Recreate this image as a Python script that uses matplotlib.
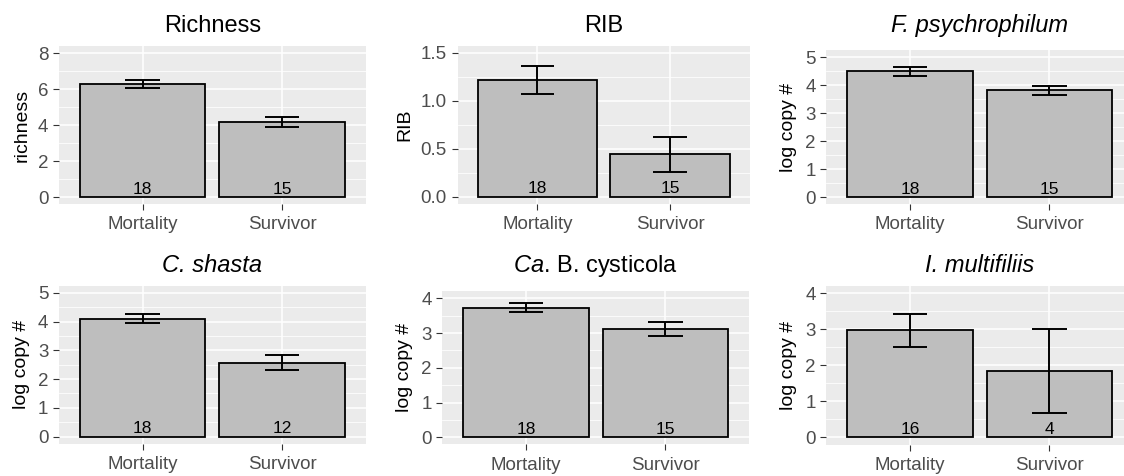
import matplotlib
matplotlib.use("Agg")
import matplotlib.pyplot as plt
from matplotlib.ticker import MultipleLocator, FormatStrFormatter

plt.rcParams['font.family'] = ['Liberation Sans', 'DejaVu Sans']
plt.rcParams['mathtext.fontset'] = 'custom'
plt.rcParams['mathtext.it'] = 'Liberation Sans:italic'
plt.rcParams['mathtext.rm'] = 'Liberation Sans'

groups = ['Mortality', 'Survivor']

titles = ['Richness', 'RIB', 'F. psychrophilum',
          'C. shasta', r'$\mathit{Ca}$. B. cysticola', 'I. multifiliis']
italic_title = [False, False, True, True, False, True]
ylabels = ['richness', 'RIB', 'log copy #', 'log copy #', 'log copy #', 'log copy #']

richness_mean = [6.27, 4.18]
richness_se = [0.23, 0.29]
rib_mean = [1.22, 0.44]
rib_se = [0.145, 0.18]
fpsy_mean = [4.50, 3.82]
fpsy_se = [0.155, 0.165]
cshasta_mean = [4.10, 2.56]
cshasta_se = [0.155, 0.26]
cysticola_mean = [3.73, 3.12]
cysticola_se = [0.125, 0.20]
imult_mean = [2.97, 1.84]
imult_se = [0.455, 1.16]

n_richness = [18, 15]
n_rib = [18, 15]
n_fpsy = [18, 15]
n_cshasta = [18, 12]
n_cysticola = [18, 15]
n_imult = [16, 4]

means = [richness_mean, rib_mean, fpsy_mean, cshasta_mean, cysticola_mean, imult_mean]
ses = [richness_se, rib_se, fpsy_se, cshasta_se, cysticola_se, imult_se]
counts = [n_richness, n_rib, n_fpsy, n_cshasta, n_cysticola, n_imult]

y_max = [8, 1.5, 5, 5, 4, 4]
y_step = [2, 0.5, 1, 1, 1, 1]
y_fmt = ['%d', '%.1f', '%d', '%d', '%d', '%d']

# panel boxes in pixels: left, top, right, bottom
W, H = 1124, 476
boxes = [(59.1, 45.8, 365.6, 204.2),
         (457.7, 45.5, 749.6, 203.9),
         (826.4, 50.4, 1133.0, 204.0),
         (59.1, 285.5, 365.6, 443.9),
         (442.4, 291.4, 749.0, 444.3),
         (826.4, 286.1, 1133.0, 444.5)]
title_base = [32, 32, 32, 272.3, 272.3, 272.3]

fig = plt.figure(figsize=(11.24, 4.76), dpi=100)

for i in range(6):
    l, t, r, b = boxes[i]
    ax = fig.add_axes([l / W, 1 - b / H, (r - l) / W, (b - t) / H])
    ax.set_facecolor('#EBEBEB')
    for s in ax.spines.values():
        s.set_visible(False)

    x = [1, 2]
    ax.bar(x, means[i], width=0.9, color='#BEBEBE', edgecolor='black', linewidth=1.3, zorder=3)
    lo = [m - e for m, e in zip(means[i], ses[i])]
    hi = [m + e for m, e in zip(means[i], ses[i])]
    ax.vlines(x, lo, hi, color='black', linewidth=1.4, zorder=4)
    ax.hlines(lo, [v - 0.125 for v in x], [v + 0.125 for v in x], color='black', linewidth=1.4, zorder=4)
    ax.hlines(hi, [v - 0.125 for v in x], [v + 0.125 for v in x], color='black', linewidth=1.4, zorder=4)
    for xi, n in zip(x, counts[i]):
        ax.annotate(str(n), (xi, 0), xytext=(0, 2.5), textcoords='offset points',
                    ha='center', va='baseline', fontsize=12.5, color='black', zorder=5)

    ax.set_xlim(0.4, 2.6)
    ax.set_ylim(-0.05 * y_max[i], 1.05 * y_max[i])
    ax.set_xticks(x)
    ax.set_xticklabels(groups)
    ax.yaxis.set_major_locator(MultipleLocator(y_step[i]))
    ax.yaxis.set_minor_locator(MultipleLocator(y_step[i] / 2))
    ax.yaxis.set_major_formatter(FormatStrFormatter(y_fmt[i]))
    ax.set_axisbelow(True)
    ax.grid(which='major', color='white', linewidth=1.1)
    ax.grid(which='minor', axis='y', color='white', linewidth=0.55)
    ax.tick_params(which='major', length=4.2, width=0.8, color='#333333',
                   labelsize=13.5, labelcolor='#4D4D4D', pad=3.6)
    ax.tick_params(axis='x', pad=4.6)
    ax.tick_params(which='minor', length=0)
    ax.set_ylabel(ylabels[i], fontsize=14, labelpad=5.5)

    fig.text((l + r) / 2 / W, 1 - title_base[i] / H, titles[i], ha='center', va='baseline',
             fontsize=17, fontstyle='italic' if italic_title[i] else 'normal')

fig.savefig('out.png', dpi=100)
